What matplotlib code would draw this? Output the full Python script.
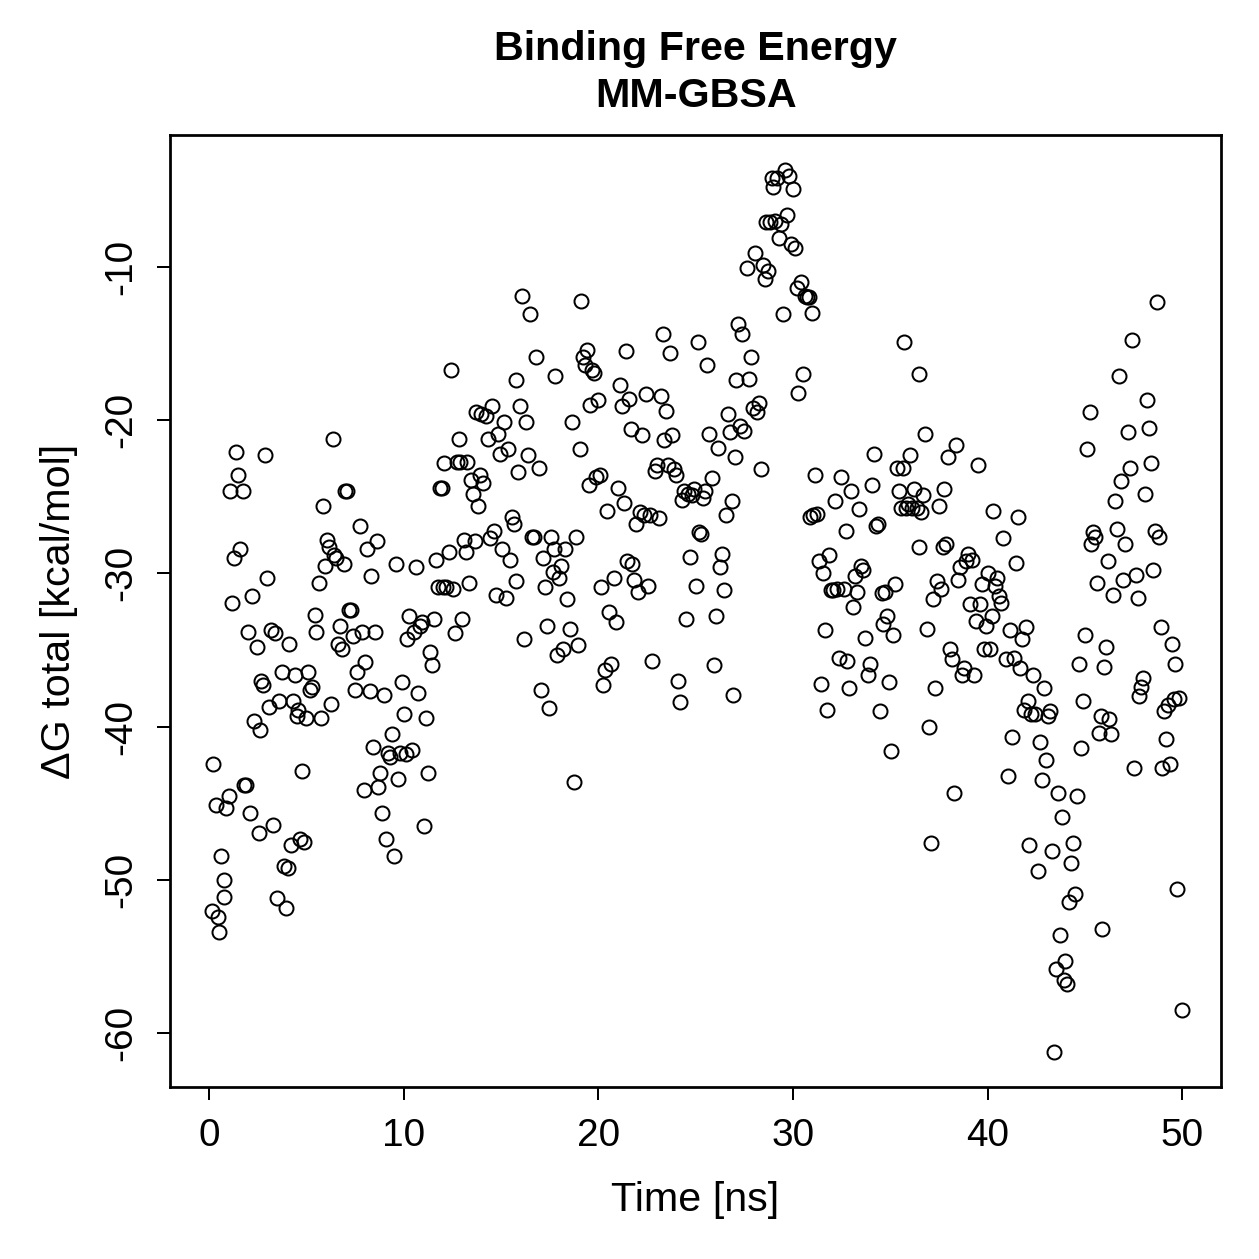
import numpy as np
import matplotlib
matplotlib.use("Agg")
import matplotlib.pyplot as plt

# MM-GBSA binding free energy over the trajectory
time_ns = [
    0.15, 0.2, 0.35, 0.45, 0.5, 0.6, 0.75, 0.8, 0.9, 1.05, 1.1, 1.2, 1.3, 1.4, 1.5, 1.6, 1.75, 1.8, 1.9, 2.0,
    2.1, 2.2, 2.3, 2.45, 2.55, 2.6, 2.7, 2.8, 2.9, 3.0, 3.1, 3.2, 3.3, 3.4, 3.5, 3.6, 3.75, 3.85, 3.95, 4.05,
    4.1, 4.2, 4.3, 4.4, 4.5, 4.6, 4.7, 4.8, 4.9, 5.0, 5.1, 5.2, 5.3, 5.45, 5.5, 5.65, 5.75, 5.85, 5.95, 6.05,
    6.15, 6.25, 6.35, 6.45, 6.55, 6.65, 6.75, 6.85, 6.95, 7.0, 7.1, 7.2, 7.3, 7.4, 7.5, 7.6, 7.75, 7.85, 7.95, 8.0,
    8.1, 8.25, 8.35, 8.45, 8.55, 8.65, 8.7, 8.8, 8.9, 9.0, 9.1, 9.2, 9.3, 9.4, 9.5, 9.6, 9.7, 9.8, 9.9, 10.0,
    10.1, 10.2, 10.3, 10.45, 10.55, 10.65, 10.75, 10.85, 10.95, 11.05, 11.15, 11.25, 11.35, 11.45, 11.55, 11.65, 11.75, 11.85, 11.95, 12.05,
    12.1, 12.2, 12.35, 12.45, 12.55, 12.65, 12.75, 12.85, 12.9, 13.0, 13.1, 13.2, 13.25, 13.35, 13.45, 13.55, 13.65, 13.7, 13.8, 13.9,
    14.0, 14.1, 14.25, 14.35, 14.45, 14.55, 14.65, 14.75, 14.85, 14.95, 15.05, 15.15, 15.25, 15.35, 15.45, 15.55, 15.65, 15.75, 15.8, 15.9,
    16.0, 16.1, 16.2, 16.3, 16.4, 16.5, 16.6, 16.7, 16.8, 16.95, 17.05, 17.15, 17.25, 17.35, 17.45, 17.55, 17.65, 17.75, 17.8, 17.9,
    18.0, 18.1, 18.2, 18.3, 18.4, 18.55, 18.65, 18.75, 18.85, 18.95, 19.05, 19.1, 19.2, 19.3, 19.4, 19.5, 19.6, 19.7, 19.8, 19.9,
    20.0, 20.1, 20.15, 20.25, 20.35, 20.45, 20.55, 20.65, 20.8, 20.9, 21.0, 21.1, 21.2, 21.3, 21.4, 21.5, 21.6, 21.7, 21.75, 21.85,
    21.95, 22.05, 22.15, 22.25, 22.35, 22.45, 22.55, 22.65, 22.75, 22.9, 23.0, 23.1, 23.2, 23.3, 23.4, 23.5, 23.6, 23.7, 23.8, 23.9,
    24.0, 24.1, 24.2, 24.3, 24.4, 24.5, 24.6, 24.7, 24.8, 24.9, 25.0, 25.1, 25.2, 25.3, 25.4, 25.5, 25.6, 25.7, 25.85, 25.95,
    26.05, 26.15, 26.25, 26.35, 26.45, 26.55, 26.65, 26.75, 26.85, 26.9, 27.0, 27.1, 27.2, 27.3, 27.4, 27.5, 27.65, 27.75, 27.85, 27.95,
    28.05, 28.15, 28.25, 28.35, 28.45, 28.55, 28.6, 28.7, 28.8, 28.9, 29.0, 29.1, 29.2, 29.3, 29.4, 29.5, 29.6, 29.7, 29.8, 29.9,
    30.0, 30.1, 30.2, 30.25, 30.4, 30.5, 30.6, 30.7, 30.8, 30.9, 31.0, 31.05, 31.15, 31.25, 31.35, 31.45, 31.55, 31.65, 31.75, 31.85,
    31.95, 32.05, 32.15, 32.25, 32.35, 32.45, 32.6, 32.7, 32.8, 32.9, 33.0, 33.1, 33.2, 33.3, 33.4, 33.5, 33.6, 33.7, 33.85, 33.95,
    34.05, 34.15, 34.25, 34.35, 34.45, 34.55, 34.65, 34.75, 34.85, 34.95, 35.05, 35.15, 35.25, 35.35, 35.45, 35.55, 35.65, 35.7, 35.8, 35.9,
    36.0, 36.1, 36.2, 36.35, 36.45, 36.5, 36.6, 36.7, 36.8, 36.9, 37.0, 37.1, 37.2, 37.3, 37.4, 37.5, 37.6, 37.7, 37.75, 37.85,
    37.95, 38.05, 38.15, 38.25, 38.4, 38.5, 38.6, 38.7, 38.8, 38.9, 39.0, 39.1, 39.2, 39.3, 39.4, 39.5, 39.6, 39.7, 39.8, 39.9,
    40.0, 40.1, 40.2, 40.3, 40.4, 40.5, 40.6, 40.7, 40.8, 40.95, 41.05, 41.15, 41.25, 41.35, 41.45, 41.55, 41.65, 41.75, 41.85, 41.95,
    42.05, 42.15, 42.25, 42.35, 42.45, 42.6, 42.7, 42.8, 42.9, 43.0, 43.1, 43.2, 43.3, 43.4, 43.5, 43.6, 43.7, 43.8, 43.9, 44.0,
    44.1, 44.2, 44.3, 44.4, 44.5, 44.6, 44.7, 44.8, 44.9, 45.0, 45.1, 45.25, 45.3, 45.4, 45.5, 45.6, 45.7, 45.8, 45.9, 46.0,
    46.1, 46.2, 46.25, 46.35, 46.45, 46.55, 46.65, 46.75, 46.85, 46.95, 47.05, 47.2, 47.3, 47.4, 47.5, 47.6, 47.7, 47.8, 47.9, 48.0,
    48.1, 48.2, 48.3, 48.4, 48.5, 48.6, 48.7, 48.8, 48.9, 48.95, 49.05, 49.15, 49.25, 49.35, 49.45, 49.55, 49.65, 49.75, 49.85, 50.0,
]

dg_total = [
    -52.0, -42.4, -45.1, -52.4, -53.4, -48.4, -50.0, -51.1, -45.3, -44.5, -24.6, -31.9, -29.0, -22.1, -23.6, -28.4, -24.6, -43.8, -43.8, -33.8,
    -45.6, -31.5, -39.6, -34.8, -46.9, -40.2, -37.0, -37.3, -22.3, -30.3, -38.7, -33.7, -46.4, -33.9, -51.2, -38.3, -36.4, -49.1, -51.8, -49.2,
    -34.6, -47.7, -38.3, -36.6, -39.3, -38.9, -47.3, -42.9, -47.5, -39.4, -36.4, -37.6, -37.4, -32.7, -33.8, -30.6, -39.4, -25.6, -29.5, -27.8,
    -28.3, -38.5, -21.2, -28.8, -29.0, -34.6, -33.4, -34.9, -29.4, -24.6, -24.6, -32.4, -32.4, -34.1, -37.6, -36.4, -26.9, -33.8, -44.1, -35.8,
    -28.4, -37.7, -30.2, -41.3, -33.8, -27.9, -43.9, -43.0, -45.6, -37.9, -47.3, -41.7, -42.0, -40.5, -48.4, -29.4, -43.4, -41.7, -37.1, -39.2,
    -41.8, -34.3, -32.8, -41.5, -33.8, -29.6, -37.8, -33.4, -33.2, -46.5, -39.4, -43.0, -35.1, -36.0, -33.0, -29.1, -30.9, -24.4, -24.4, -30.9,
    -22.8, -30.9, -28.6, -16.7, -31.0, -33.9, -22.7, -21.2, -22.7, -33.0, -27.8, -28.6, -22.7, -30.6, -23.9, -24.8, -27.9, -19.5, -25.6, -23.6,
    -19.6, -24.1, -19.7, -21.2, -27.7, -19.1, -27.2, -31.4, -20.9, -22.2, -28.4, -20.1, -31.6, -21.9, -29.1, -26.3, -26.8, -30.5, -17.4, -23.4,
    -19.1, -11.9, -34.3, -20.1, -22.3, -13.1, -27.6, -27.6, -15.9, -23.1, -37.6, -29.0, -30.9, -33.4, -38.8, -27.6, -29.9, -28.4, -17.1, -35.3,
    -30.3, -29.5, -34.9, -28.4, -31.7, -33.6, -20.1, -43.6, -27.6, -34.7, -21.9, -12.2, -15.9, -16.4, -15.4, -24.2, -19.0, -16.7, -16.9, -23.7,
    -18.7, -23.6, -30.9, -37.3, -36.3, -25.9, -32.5, -35.9, -30.3, -33.2, -24.4, -17.7, -19.1, -25.4, -15.5, -29.2, -18.6, -20.6, -29.4, -30.4,
    -26.8, -31.2, -26.0, -21.0, -26.2, -18.3, -30.8, -26.2, -35.7, -23.3, -22.9, -26.4, -18.4, -14.4, -21.3, -19.4, -22.9, -15.6, -21.0, -23.2,
    -23.6, -37.0, -38.4, -25.2, -24.6, -33.0, -24.8, -28.9, -24.9, -24.5, -30.8, -14.9, -27.3, -27.4, -25.1, -24.6, -16.4, -20.9, -23.8, -36.0,
    -32.8, -21.8, -29.6, -28.7, -31.1, -26.2, -19.6, -20.8, -25.3, -37.9, -22.4, -17.4, -13.7, -20.4, -14.4, -20.7, -10.1, -17.3, -15.9, -19.2,
    -9.1, -19.5, -18.9, -23.2, -9.9, -10.8, -7.1, -10.3, -7.1, -4.2, -4.8, -7.0, -4.2, -8.1, -7.2, -13.1, -3.7, -6.6, -4.1, -8.5,
    -4.9, -8.8, -11.4, -18.2, -11.0, -17.0, -11.9, -12.0, -12.0, -26.3, -13.0, -26.2, -23.6, -26.1, -29.2, -37.2, -30.0, -33.7, -38.9, -28.8,
    -31.1, -31.1, -25.3, -31.0, -35.5, -23.7, -31.0, -27.2, -35.7, -37.5, -24.6, -32.2, -30.2, -31.2, -25.8, -29.5, -29.8, -34.2, -36.6, -35.9,
    -24.2, -22.2, -26.9, -26.8, -39.0, -31.3, -33.3, -31.2, -32.8, -37.1, -41.6, -34.0, -30.7, -23.1, -24.6, -25.7, -23.1, -14.9, -25.7, -25.5,
    -22.3, -25.7, -24.5, -25.7, -28.3, -17.0, -26.0, -24.9, -20.9, -33.6, -40.0, -47.6, -31.7, -37.5, -30.5, -25.6, -31.0, -28.3, -24.5, -28.1,
    -22.4, -34.9, -35.6, -44.3, -21.6, -30.4, -29.6, -36.6, -36.2, -29.2, -28.7, -32.0, -29.1, -36.6, -33.1, -22.9, -32.0, -30.7, -34.9, -33.4,
    -30.0, -34.9, -32.8, -25.9, -30.8, -30.3, -31.5, -31.9, -27.7, -35.6, -43.2, -33.7, -40.7, -35.5, -29.3, -26.3, -36.2, -34.3, -38.9, -33.5,
    -38.3, -47.7, -39.2, -36.6, -39.2, -49.4, -41.0, -43.5, -37.5, -42.2, -39.3, -39.0, -48.1, -61.2, -55.8, -44.3, -53.6, -45.9, -56.5, -55.3,
    -56.8, -51.4, -48.9, -47.6, -50.9, -44.5, -35.9, -41.4, -38.3, -34.0, -21.9, -19.5, -28.1, -27.3, -27.6, -30.6, -40.4, -39.3, -53.2, -36.1,
    -34.8, -29.2, -39.5, -40.5, -31.4, -25.3, -27.1, -17.1, -24.0, -30.4, -28.1, -20.8, -23.1, -14.8, -42.7, -30.1, -31.6, -38.0, -37.4, -36.8,
    -24.8, -18.7, -20.5, -22.8, -29.8, -27.2, -12.3, -27.6, -33.5, -42.7, -39.0, -40.8, -38.6, -42.4, -34.6, -38.2, -35.9, -50.6, -38.1, -58.5,
]

x_ticks = [0, 10, 20, 30, 40, 50]
y_ticks = [-60, -50, -40, -30, -20, -10]

plt.rcParams['font.family'] = ['Liberation Sans', 'DejaVu Sans']

fig = plt.figure(figsize=(1259 / 180, 1259 / 180), dpi=180)
ax = fig.add_axes([0.135, 0.1366, 0.835, 0.7562])

ax.plot(time_ns, dg_total, linestyle="none", marker="o", markersize=5.6,
        markerfacecolor="none", markeredgecolor="black", markeredgewidth=0.8)

# R style 4% padding on both axes
g = np.array(dg_total)
gpad = (g.max() - g.min()) * 0.04
ax.set_xlim(0 - 2.0, 50 + 2.0)
ax.set_ylim(g.min() - gpad, g.max() + gpad)

ax.set_xticks(x_ticks)
ax.set_yticks(y_ticks)
ax.set_xticklabels([str(v) for v in x_ticks])
ax.set_yticklabels([str(v) for v in y_ticks], rotation=90, va="center")
ax.tick_params(axis="both", direction="out", length=5.2, width=0.8, labelsize=15.5, pad=7)

for s in ax.spines.values():
    s.set_linewidth(1.1)

ax.set_xlabel("Time [ns]", fontsize=16.5, labelpad=11)
ax.set_ylabel("ΔG total [kcal/mol]", fontsize=16.5, labelpad=10)
ax.set_title("Binding Free Energy\nMM-GBSA", fontsize=16.5, fontweight="bold", pad=11, linespacing=1.32)

fig.savefig("out.png", dpi=180)
